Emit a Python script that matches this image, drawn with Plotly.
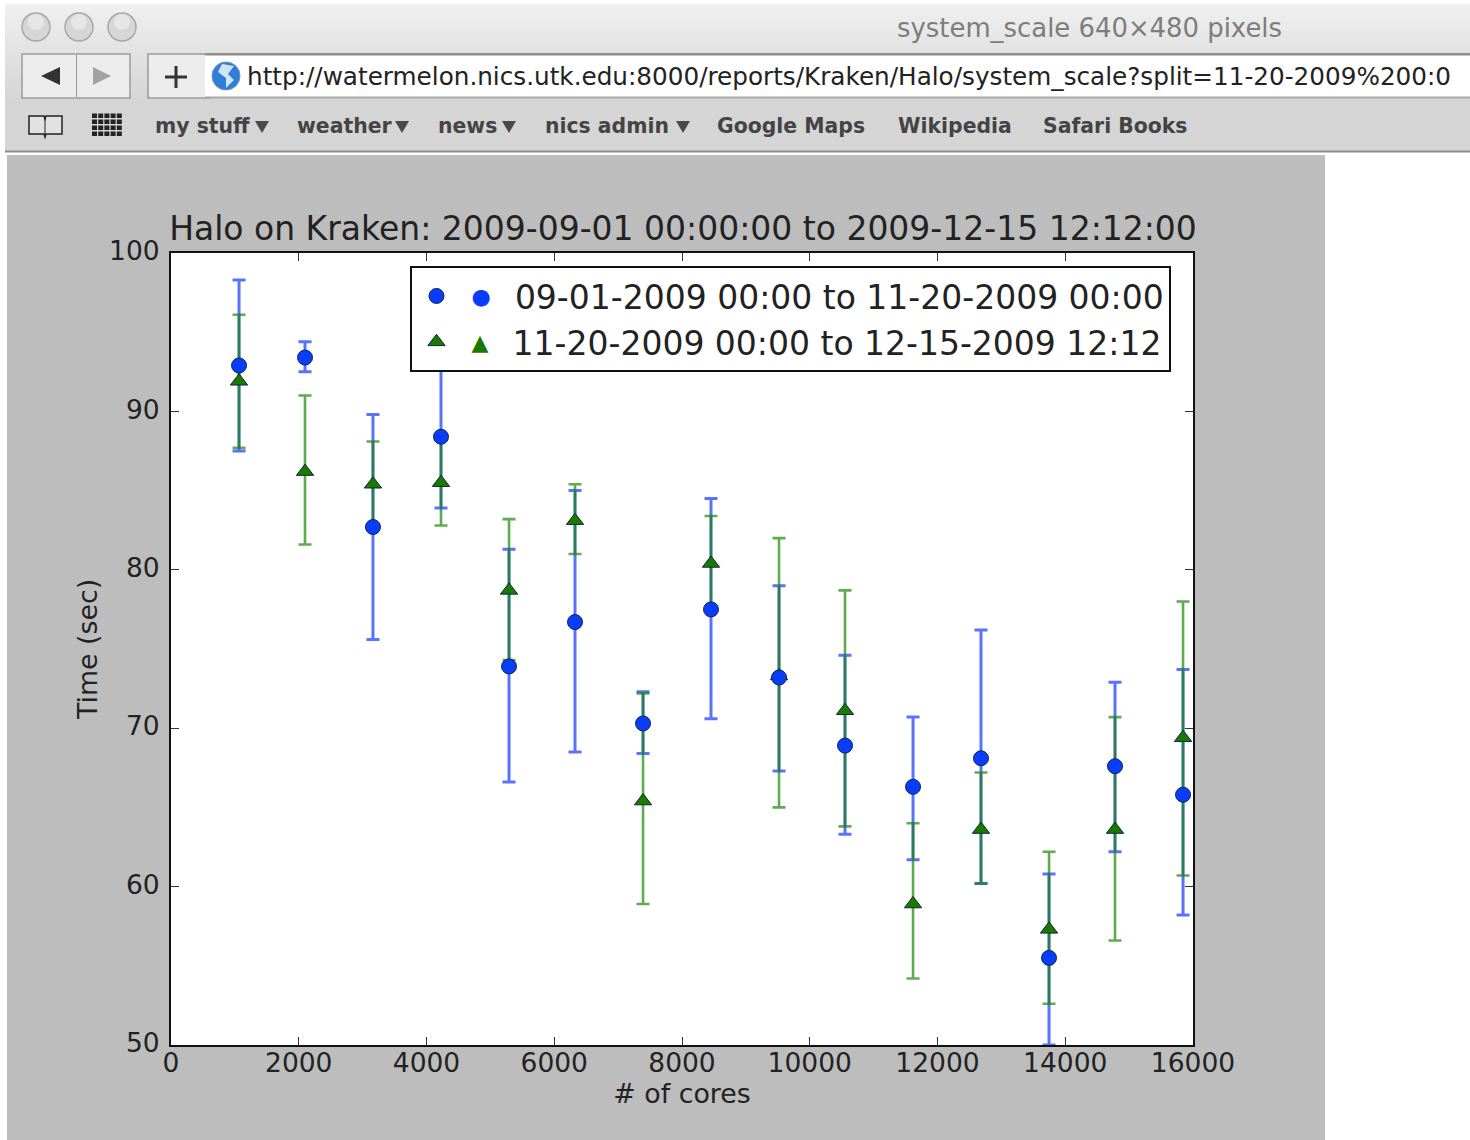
import plotly.graph_objects as go

cores = [1065, 2098, 3162, 4227, 5292, 6325, 7390, 8454, 9519, 10552, 11617, 12681, 13746, 14779, 15844]

blue_name = "09-01-2009 00:00 to 11-20-2009 00:00"
blue_mean = [92.9, 93.4, 82.7, 88.4, 73.9, 76.7, 70.3, 77.5, 73.2, 68.9, 66.3, 68.1, 55.5, 67.6, 65.8]
blue_top = [98.3, 94.4, 89.8, 93.0, 81.3, 85.0, 72.3, 84.5, 79.0, 74.6, 70.7, 76.2, 60.8, 72.9, 73.7]
blue_bottom = [87.5, 92.5, 75.6, 83.9, 66.6, 68.5, 68.4, 70.6, 67.3, 63.3, 61.7, 60.2, 50.0, 62.2, 58.2]

green_name = "11-20-2009 00:00 to 12-15-2009 12:12"
green_mean = [91.9, 86.2, 85.4, 85.5, 78.7, 83.1, 65.4, 80.4, 73.3, 71.1, 58.9, 63.6, 57.3, 63.6, 69.4]
green_top = [96.1, 91.0, 88.1, 88.2, 83.2, 85.4, 72.2, 83.4, 82.0, 78.7, 64.0, 67.2, 62.2, 70.7, 78.0]
green_bottom = [87.7, 81.6, 82.7, 82.8, 74.3, 81.0, 58.9, 77.5, 65.0, 63.8, 54.2, 60.2, 52.6, 56.6, 60.7]

x_ticks = [0, 2000, 4000, 6000, 8000, 10000, 12000, 14000, 16000]
y_ticks = [50, 60, 70, 80, 90, 100]

W, H = 1470, 1140
BLUE, GREEN = "#0a3cff", "#1a7a00"
EDGE = "#0b2a3a"
FONT = "DejaVu Sans"
UI = "DejaVu Sans"


def fx(px):
    return px / W


def fy(py):
    return 1 - py / H


def rect(x0, y0, x1, y1, fill, line=None, lw=1):
    return dict(type="rect", xref="paper", yref="paper", layer="below",
                x0=fx(x0), x1=fx(x1), y0=fy(y0), y1=fy(y1), fillcolor=fill,
                line=dict(color=line or "rgba(0,0,0,0)", width=lw if line else 0))


def circle(cx, cy, r, fill, line=None, lw=1):
    s = rect(cx - r, cy - r, cx + r, cy + r, fill, line, lw)
    s["type"] = "circle"
    return s


def poly(points, fill, line=None, lw=1):
    path = "M " + " L ".join(f"{fx(a):.5f},{fy(b):.5f}" for a, b in points) + " Z"
    return dict(type="path", xref="paper", yref="paper", layer="below", path=path,
                fillcolor=fill, line=dict(color=line or "rgba(0,0,0,0)", width=lw if line else 0))


def text(x, y, s, size, color, anchor="left", family=UI):
    return dict(xref="paper", yref="paper", x=fx(x), y=fy(y), text=s, showarrow=False,
                xanchor=anchor, yanchor="middle", font=dict(family=family, size=size, color=color))


shapes = []
# window chrome: title/toolbar gradient
steps = 24
for i in range(steps):
    t = i / (steps - 1)
    g = int(240 - t * 26)
    shapes.append(rect(5, 4 + i * 4, W, 4 + (i + 1) * 4 + 1, f"rgb({g},{g},{g})"))
shapes.append(rect(5, 100, W, 152, "#d5d5d5"))
shapes.append(rect(5, 150.5, W, 152.5, "#8e8e8e"))
# figure canvas and the white plot area on it
shapes.append(rect(7, 155, 1325, H, "#bdbdbd"))
shapes.append(rect(171, 253, 1193, 1045, "#ffffff"))
# traffic lights
for cx in (36, 79, 122):
    shapes.append(circle(cx, 27, 14, "#d6d6d6", "#a8a8a8", 1.5))
    shapes.append(circle(cx, 22, 8, "#e6e6e6"))
# nav buttons
shapes.append(rect(22, 54, 130, 98, "#ececec", "#9a9a9a", 1.5))
shapes.append(rect(76, 55, 77, 97, "#9a9a9a"))
shapes.append(poly([(41, 76), (60, 67), (60, 85)], "#333333"))
shapes.append(poly([(111, 76), (93, 67), (93, 85)], "#a2a2a2"))
shapes.append(rect(148, 54, 210, 98, "#ececec", "#9a9a9a", 1.5))
shapes.append(rect(205, 54, W, 98, "#ffffff"))
shapes.append(rect(205, 53, W, 55.5, "#8f8f8f"))
shapes.append(rect(205, 96.5, W, 98.5, "#a8a8a8"))
shapes.append(rect(174.5, 66, 177.5, 88, "#333333"))
shapes.append(rect(165, 75.5, 187, 78.5, "#333333"))
# globe
shapes.append(circle(226, 76, 14, "#2f7fd8", "#6f93b8", 1))
shapes.append(poly([(222, 64), (234, 66), (228, 74), (234, 80), (226, 88), (226, 78), (218, 72)], "#cfe4f5"))
# bookmarks icons
shapes.append(poly([(29, 116), (44, 116), (45, 119), (46, 116), (62, 116), (62, 134), (46, 134), (45, 137), (44, 134), (29, 134)],
                   "#e2e2e2", "#222222", 1.5))
shapes.append(rect(44.5, 118, 45.5, 134, "#222222"))
for r_ in range(4):
    for c_ in range(5):
        shapes.append(rect(92 + c_ * 6.2, 113.5 + r_ * 6, 97 + c_ * 6.2, 118 + r_ * 6, "#222222"))
# menu triangles
for tx in (262, 402, 509, 683):
    shapes.append(poly([(tx - 7, 121), (tx + 7, 121), (tx, 133)], "#4a4a4a"))

annotations = [
    text(895, 28, "system_scale 640×480 pixels", 25.9, "#7d7d7d"),
    text(245, 77, "http://watermelon.nics.utk.edu:8000/reports/Kraken/Halo/system_scale?split=11-20-2009%200:0", 24.7, "#222222"),
]
for bx, label in [(153, "my stuff"), (295, "weather"), (436, "news"), (543, "nics admin"),
                  (715, "Google Maps"), (896, "Wikipedia"), (1041, "Safari Books")]:
    annotations.append(text(bx, 126, f"<b>{label}</b>", 20.4, "#444444"))


def err(mean, top, bottom, color, thick):
    return dict(type="data", symmetric=False,
                array=[round(t - m, 2) for t, m in zip(top, mean)],
                arrayminus=[round(m - b, 2) for m, b in zip(mean, bottom)],
                color=color, thickness=thick, width=6.5)


GLYPH = "font-size:22px;baseline-shift:5px"
GAP = '  <span style="font-size:10px"> </span>'
LEAD = "&nbsp;"

fig = go.Figure()
fig.add_trace(go.Scatter(x=cores, y=blue_mean, mode="markers", showlegend=False, hoverinfo="skip",
                         marker=dict(size=1, opacity=0),
                         error_y=err(blue_mean, blue_top, blue_bottom, "rgba(0,40,255,0.65)", 3)))
fig.add_trace(go.Scatter(x=cores, y=green_mean, mode="markers", showlegend=False, hoverinfo="skip",
                         marker=dict(size=1, opacity=0),
                         error_y=err(green_mean, green_top, green_bottom, "rgba(20,130,0,0.68)", 2.6)))
fig.add_trace(go.Scatter(x=cores, y=green_mean, mode="markers", legendrank=2,
                         name=f'{LEAD}<span style="color:{GREEN};{GLYPH}">▲</span>{GAP}{green_name}',
                         marker=dict(symbol="triangle-up", size=15, color=GREEN, line=dict(color=EDGE, width=1))))
fig.add_trace(go.Scatter(x=cores, y=blue_mean, mode="markers", legendrank=1,
                         name=f'{LEAD}<span style="color:{BLUE};{GLYPH}">●</span>{GAP}{blue_name}',
                         marker=dict(symbol="circle", size=15, color=BLUE, line=dict(color=EDGE, width=1))))

axis = dict(showgrid=False, zeroline=False, showline=True, linecolor="#111111", linewidth=2,
            mirror="allticks", ticks="inside", ticklen=8, tickcolor="#333333", tickwidth=1,
            automargin=False, tickformat="d",
            tickfont=dict(family=FONT, size=26.5, color="#222222"))
title_font = dict(family=FONT, size=26.8, color="#222222")

fig.update_layout(
    width=W, height=H, autosize=False,
    margin=dict(l=0, r=0, t=0, b=0, pad=0),
    paper_bgcolor="#ffffff", plot_bgcolor="#ffffff",
    font=dict(family=FONT, color="#222222"),
    title=dict(text="Halo on Kraken: 2009-09-01 00:00:00 to 2009-12-15 12:12:00",
               x=fx(683), y=fy(228), xref="paper", yref="paper", xanchor="center", yanchor="middle",
               font=dict(family=FONT, size=33, color="#222222")),
    xaxis=dict(axis, domain=[fx(171), fx(1193)], range=[0, 16000], tickvals=x_ticks,
               ticklabelstandoff=-7,
               title=dict(text="# of cores", standoff=3, font=title_font)),
    yaxis=dict(axis, domain=[fy(1045), fy(253)], range=[50, 100], tickvals=y_ticks,
               ticklabelstandoff=4, ticklabelshift=-2,
               title=dict(text="Time (sec)", standoff=4, font=title_font)),
    legend=dict(x=fx(410), y=fy(266), xanchor="left", yanchor="top", bgcolor="#ffffff",
                bordercolor="#111111", borderwidth=2, traceorder="normal", itemwidth=39,
                entrywidth=741, entrywidthmode="pixels",
                font=dict(family=FONT, size=33, color="#222222")),
    shapes=shapes, annotations=annotations,
)

fig.write_html("out.html", config=dict(displayModeBar=False),
               post_script="document.body.style.margin='0';document.body.style.overflow='hidden';")
